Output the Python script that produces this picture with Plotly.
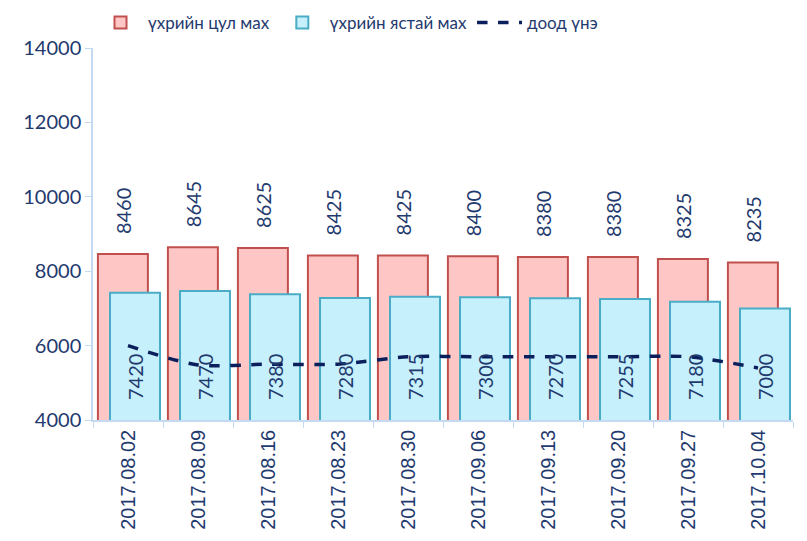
import plotly.graph_objects as go

dates = ["2017.08.02", "2017.08.09", "2017.08.16", "2017.08.23", "2017.08.30",
         "2017.09.06", "2017.09.13", "2017.09.20", "2017.09.27", "2017.10.04"]
tsul_mah = [8460, 8645, 8625, 8425, 8425, 8400, 8380, 8380, 8325, 8235]
yastai_mah = [7420, 7470, 7380, 7280, 7315, 7300, 7270, 7255, 7180, 7000]
dood_une = [6000, 5480, 5500, 5500, 5700, 5700, 5700, 5700, 5700, 5400]
y_ticks = [4000, 6000, 8000, 10000, 12000, 14000]

navy = "#1F3A6E"
fig = go.Figure()
fig.add_trace(go.Bar(
    x=dates, y=tsul_mah, name="үхрийн цул мах",
    offset=-0.43, width=0.714,
    marker=dict(color="#FFC6C6", line=dict(color="#C0504D", width=2)),
))
fig.add_trace(go.Bar(
    x=dates, y=yastai_mah, name="үхрийн ястай мах",
    offset=-0.257, width=0.714,
    marker=dict(color="#C6F0FC", line=dict(color="#4BACC6", width=2)),
))
fig.add_trace(go.Scatter(
    x=dates, y=dood_une, name="доод үнэ", mode="lines",
    line=dict(color="#0A1F5C", width=3.5, dash="dash", shape="spline", smoothing=0.8),
))

annotations = []
for d, v in zip(dates, tsul_mah):
    annotations.append(dict(x=d, y=v, text=str(v), showarrow=False, textangle=-90,
                            xshift=-5, yshift=18, yanchor="bottom",
                            font=dict(family="Lato", size=20, color=navy)))
for d, v in zip(dates, yastai_mah):
    annotations.append(dict(x=d, y=y_ticks[0], text=str(v), showarrow=False, textangle=-90,
                            xshift=7, yshift=18, yanchor="bottom",
                            font=dict(family="Lato", size=20, color=navy)))

fig.update_layout(
    width=807, height=541,
    margin=dict(l=85, r=22, t=40, b=129, autoexpand=False),
    barmode="overlay",
    plot_bgcolor="white", paper_bgcolor="white",
    showlegend=True,
    legend=dict(orientation="h", x=0.0, y=1.019, xanchor="left", yanchor="bottom",
                font=dict(family="Lato", size=17, color=navy),
                itemwidth=45, tracegroupgap=0, traceorder="normal"),
    annotations=annotations,
    xaxis=dict(type="category", tickangle=-90, showgrid=False, automargin=False,
               showline=True, linecolor="#C5D9F1", linewidth=1.5,
               ticks="outside", tickson="boundaries", tickcolor="#C5D9F1", ticklen=6,
               tickfont=dict(family="Liberation Sans", size=20, color=navy)),
    yaxis=dict(range=[4000, 14000], tickvals=y_ticks, tickformat="d", showgrid=False,
               automargin=False,
               showline=True, linecolor="#C5D9F1", linewidth=1.5,
               ticks="outside", tickcolor="#C5D9F1", ticklen=6,
               tickfont=dict(family="Lato", size=20, color=navy)),
)

fig.write_html("out.html")
